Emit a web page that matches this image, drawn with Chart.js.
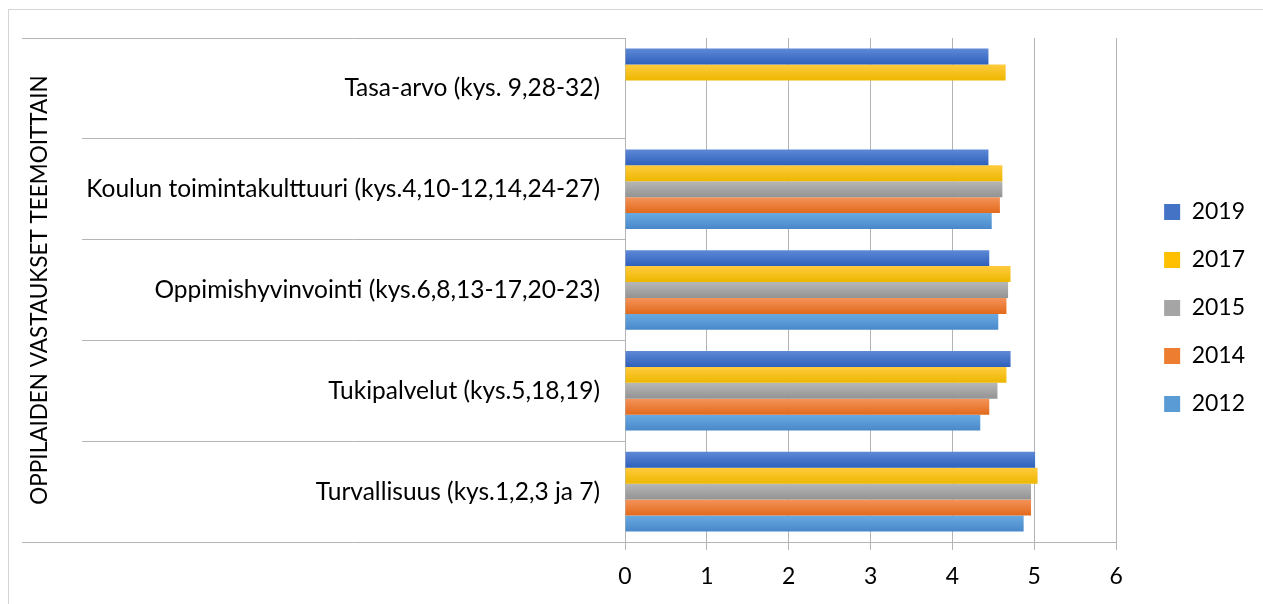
<!DOCTYPE html>
<html>
<head>
<meta charset="utf-8">
<script src="https://cdn.jsdelivr.net/npm/chart.js@4.4.1/dist/chart.umd.min.js"></script>
<style>
  html, body { margin: 0; padding: 0; background: #fff; }
  #frame { position: absolute; left: 8px; top: 9px; right: -2px; bottom: -2px; border-left: 1px solid #d4d4d4; border-top: 1px solid #d4d4d4; }
  canvas { position: absolute; left: 0; top: 0; }
</style>
</head>
<body>
<div id="frame"></div>
<canvas id="chart" width="1263" height="604"></canvas>
<script>
// teemat ylhäältä alas
const teemat = [
  'Tasa-arvo (kys. 9,28-32)',
  'Koulun toimintakulttuuri (kys.4,10-12,14,24-27)',
  'Oppimishyvinvointi (kys.6,8,13-17,20-23)',
  'Tukipalvelut (kys.5,18,19)',
  'Turvallisuus (kys.1,2,3 ja 7)'
];
const vuodet = ['2019', '2017', '2015', '2014', '2012'];
const v2019 = [4.44, 4.44, 4.45, 4.71, 5.01];
const v2017 = [4.65, 4.61, 4.71, 4.66, 5.04];
const v2015 = [null, 4.61, 4.68, 4.55, 4.96];
const v2014 = [null, 4.58, 4.66, 4.45, 4.96];
const v2012 = [null, 4.48, 4.56, 4.34, 4.87];
const xTicks = [0, 1, 2, 3, 4, 5, 6];

const colors = ['#4472C4', '#FFC000', '#A5A5A5', '#ED7D31', '#5B9BD5'];
const lightColors = ['#5E89D6', '#FFCB3D', '#B7B7B7', '#F4935A', '#6AAAE2'];
const darkColors = ['#2E60BC', '#EDB700', '#939393', '#E26A1C', '#4888C9'];
const gridColor = '#b4b4b4';
const font = 'Lato';

// Excel-tyylinen liukuväri palkkeihin
const gradientBars = {
  id: 'gradientBars',
  beforeDatasetsDraw(chart) {
    const ctx = chart.ctx;
    chart.data.datasets.forEach((ds, i) => {
      chart.getDatasetMeta(i).data.forEach(bar => {
        if (!isFinite(bar.y)) return;
        const top = bar.y - bar.height / 2;
        const g = ctx.createLinearGradient(0, top, 0, top + bar.height);
        g.addColorStop(0, lightColors[i]);
        g.addColorStop(1, darkColors[i]);
        bar.options = Object.assign({}, bar.options, { backgroundColor: g });
      });
    });
  }
};

// ylimmän ja alimman jakoviivan jatko vasemmalle
const outerLines = {
  id: 'outerLines',
  afterDraw(chart) {
    const y = chart.scales.y, area = chart.chartArea, ctx = chart.ctx;
    const inner = y.right - y.options.grid.tickLength;
    ctx.save();
    ctx.strokeStyle = gridColor;
    ctx.lineWidth = 1;
    ctx.beginPath();
    [area.top, area.bottom].forEach(py => {
      ctx.moveTo(inner - 60, Math.round(py) + 0.5);
      ctx.lineTo(inner, Math.round(py) + 0.5);
    });
    ctx.stroke();
    ctx.restore();
  }
};

const series = [v2019, v2017, v2015, v2014, v2012];

new Chart(document.getElementById('chart'), {
  type: 'bar',
  data: {
    labels: teemat,
    datasets: series.map((d, i) => ({
      label: vuodet[i],
      data: d,
      backgroundColor: colors[i],
      borderWidth: 0,
      categoryPercentage: 0.79,
      barPercentage: 1
    }))
  },
  options: {
    indexAxis: 'y',
    responsive: false,
    animation: false,
    events: [],
    layout: { padding: { top: 38, bottom: 0, left: 0, right: 8 } },
    plugins: {
      tooltip: { enabled: false },
      legend: {
        position: 'right',
        fullSize: false,
        title: { display: true, text: '', padding: 12, font: { size: 10 } },
        labels: {
          boxWidth: 16,
          boxHeight: 16,
          padding: 25,
          color: '#000',
          font: { family: font, size: 23 }
        }
      }
    },
    scales: {
      x: {
        type: 'linear',
        min: 0,
        max: 6,
        afterBuildTicks: s => { s.ticks = xTicks.map(v => ({ value: v })); },
        grid: { color: gridColor, tickLength: 8 },
        border: { display: true, color: gridColor },
        ticks: { padding: 13, color: '#000', font: { family: font, size: 23 } },
        afterFit: s => { s.height = 62; }
      },
      y: {
        type: 'category',
        grid: { offset: true, drawOnChartArea: false, tickLength: 543, color: gridColor },
        border: { display: true, color: gridColor },
        ticks: { padding: -518, color: '#000', autoSkip: false, font: { family: font, size: 24.5 } },
        title: {
          display: true,
          text: 'OPPILAIDEN VASTAUKSET TEEMOITTAIN',
          color: '#000',
          padding: { top: 26, bottom: 0 },
          font: { family: font, size: 22.5 }
        },
        afterFit: s => { s.width = 625; }
      },
      gap: {
        type: 'linear',
        position: 'right',
        grid: { display: false },
        border: { display: false },
        ticks: { display: false },
        afterFit: s => { s.width = 23; }
      }
    }
  },
  plugins: [gradientBars, outerLines]
});
</script>
</body>
</html>
